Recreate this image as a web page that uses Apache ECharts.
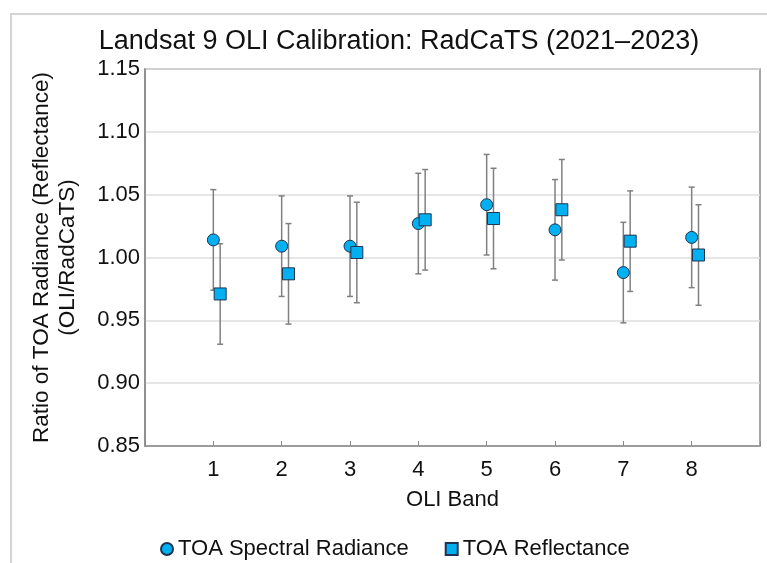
<!DOCTYPE html>
<html>
<head>
<meta charset="utf-8">
<script src="https://cdn.jsdelivr.net/npm/echarts@6/dist/echarts.min.js"></script>
<style>
html,body{margin:0;padding:0;background:#fff;}
#chart{width:767px;height:563px;}
</style>
</head>
<body>
<div id="chart"></div>
<script>
// ---- data ----
var bands = [1, 2, 3, 4, 5, 6, 7, 8];
var radiance = [1.014, 1.009, 1.009, 1.027, 1.042, 1.022, 0.988, 1.016];
var radianceErr = [0.040, 0.040, 0.040, 0.040, 0.040, 0.040, 0.040, 0.040];
var reflectance = [0.971, 0.987, 1.004, 1.030, 1.031, 1.038, 1.013, 1.002];
var reflectanceErr = [0.040, 0.040, 0.040, 0.040, 0.040, 0.040, 0.040, 0.040];
var yTicks = [0.85, 0.90, 0.95, 1.00, 1.05, 1.10, 1.15];
var seriesNames = ['TOA Spectral Radiance', 'TOA Reflectance'];

var SHIFT = 0.1; // horizontal offset of the reflectance markers
var FONT = 'Liberation Sans, Arial, sans-serif';
var FILL = '#00B0F0';
var EDGE = '#1F3450';
var ERR = '#808080';

var radPts = bands.map(function (b, i) { return [b, radiance[i]]; });
var refPts = bands.map(function (b, i) { return [b + SHIFT, reflectance[i]]; });
var radErrPts = bands.map(function (b, i) { return [b, radiance[i] - radianceErr[i], radiance[i] + radianceErr[i]]; });
var refErrPts = bands.map(function (b, i) { return [b + SHIFT, reflectance[i] - reflectanceErr[i], reflectance[i] + reflectanceErr[i]]; });

function errRender(params, api) {
  var x = api.value(0);
  var lo = api.coord([x, api.value(1)]);
  var hi = api.coord([x, api.value(2)]);
  var cap = 3;
  var st = { stroke: ERR, lineWidth: 1.5 };
  return {
    type: 'group',
    children: [
      { type: 'line', shape: { x1: hi[0], y1: hi[1], x2: lo[0], y2: lo[1] }, style: st },
      { type: 'line', shape: { x1: hi[0] - cap, y1: hi[1], x2: hi[0] + cap, y2: hi[1] }, style: st },
      { type: 'line', shape: { x1: lo[0] - cap, y1: lo[1], x2: lo[0] + cap, y2: lo[1] }, style: st }
    ]
  };
}

var chart = echarts.init(document.getElementById('chart'), null, { renderer: 'canvas' });
chart.setOption({
  backgroundColor: '#fff',
  animation: false,
  textStyle: { fontFamily: FONT },
  graphic: [{
    type: 'rect', silent: true, z: -10,
    shape: { x: 11, y: 14, width: 800, height: 600 },
    style: { fill: 'none', stroke: '#d4d4d4', lineWidth: 2 }
  }],
  title: {
    text: 'Landsat 9 OLI Calibration: RadCaTS (2021\u20132023)',
    left: 394, textAlign: 'center', top: 23,
    textStyle: { fontFamily: FONT, fontSize: 27, fontWeight: 'normal', color: '#111' }
  },
  legend: {
    data: [
      { name: seriesNames[0], icon: 'circle' },
      { name: seriesNames[1], icon: 'rect' }
    ],
    left: 155, top: 533,
    itemWidth: 12, itemHeight: 12, itemGap: 36,
    textStyle: { fontFamily: FONT, fontSize: 22, color: '#111' }
  },
  grid: {
    left: 145, right: 7, top: 69, bottom: 117,
    show: true, borderColor: '#8a8a8a', borderWidth: 1.5, backgroundColor: 'transparent'
  },
  xAxis: {
    type: 'value', min: 0, max: 9, interval: 1,
    name: 'OLI Band', nameLocation: 'middle', nameGap: 43,
    nameTextStyle: { fontFamily: FONT, fontSize: 22, color: '#111' },
    axisLine: { show: true, lineStyle: { color: '#8a8a8a', width: 1.5 } },
    axisTick: { show: true, inside: true, length: 5, lineStyle: { color: '#8a8a8a' } },
    axisLabel: {
      fontFamily: FONT, fontSize: 22, color: '#111', margin: 13,
      formatter: function (v) { return bands.indexOf(v) >= 0 ? String(v) : ''; }
    },
    splitLine: { show: false }
  },
  yAxis: {
    type: 'value', min: yTicks[0], max: yTicks[yTicks.length - 1], interval: 0.05,
    name: 'Ratio of TOA Radiance (Reflectance)\n(OLI/RadCaTS)',
    nameLocation: 'middle', nameGap: 64, nameRotate: 90,
    nameTextStyle: { fontFamily: FONT, fontSize: 22.5, color: '#111', lineHeight: 26 },
    axisLine: { show: true, lineStyle: { color: '#8a8a8a', width: 1.5 } },
    axisTick: { show: false },
    axisLabel: {
      fontFamily: FONT, fontSize: 22, color: '#111', margin: 5,
      formatter: function (v) { return v.toFixed(2); }
    },
    splitLine: { show: true, lineStyle: { color: '#dedede', width: 1.5 } }
  },
  series: [
    { type: 'custom', name: 'radErr', renderItem: errRender, data: radErrPts, z: 1,
      encode: { x: 0, y: [1, 2] }, silent: true },
    { type: 'custom', name: 'refErr', renderItem: errRender, data: refErrPts, z: 1,
      encode: { x: 0, y: [1, 2] }, silent: true },
    { type: 'scatter', name: seriesNames[0], data: radPts, symbol: 'circle', symbolSize: 12, z: 3,
      itemStyle: { color: FILL, borderColor: EDGE, borderWidth: 1, opacity: 1 } },
    { type: 'scatter', name: seriesNames[1], data: refPts, symbol: 'rect', symbolSize: 12, z: 4,
      itemStyle: { color: FILL, borderColor: EDGE, borderWidth: 1, opacity: 1 } }
  ]
});
</script>
</body>
</html>
